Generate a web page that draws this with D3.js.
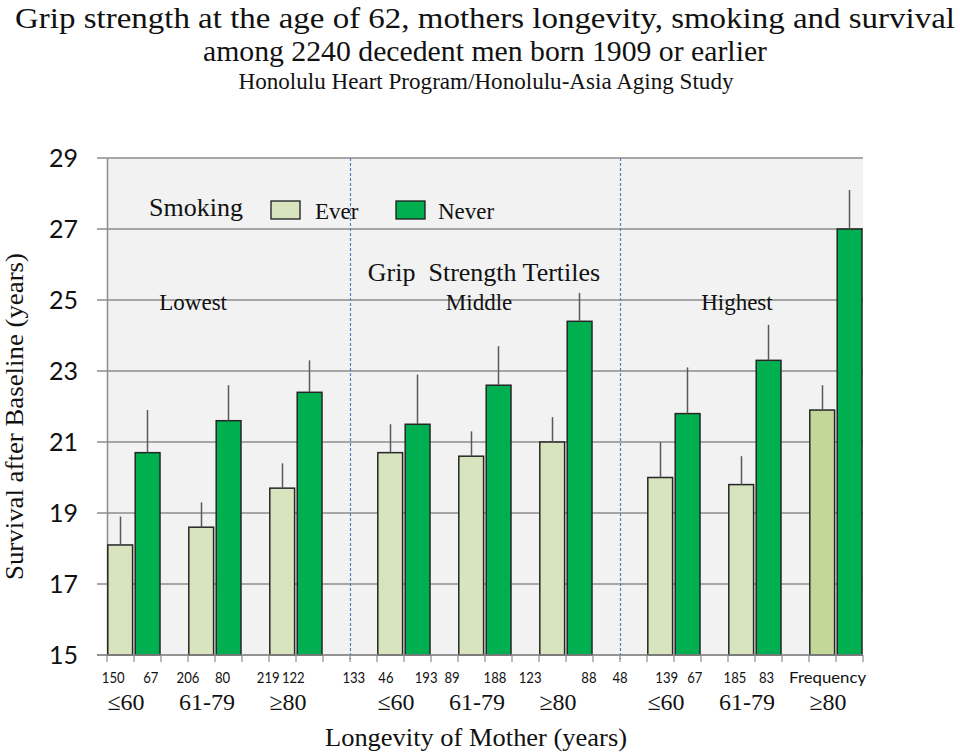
<!DOCTYPE html>
<html>
<head>
<meta charset="utf-8">
<script src="https://cdn.jsdelivr.net/npm/d3@7"></script>
<style>
  html, body { margin: 0; padding: 0; background: #fff; }
  svg { display: block; }
  .serif { font-family: "Liberation Serif", "Times New Roman", serif; fill: #111; }
  .sans { font-family: Lato, "Open Sans", sans-serif; fill: #111; }
</style>
</head>
<body>
<svg id="chart" width="960" height="753"></svg>
<script>
// ---------------- data ----------------
const gripTertiles = ["Lowest", "Middle", "Highest"];
const motherLongevity = ["≤60", "61-79", "≥80"];
// order: Lowest(≤60, 61-79, ≥80), Middle(...), Highest(...)
const everMeans  = [18.1, 18.6, 19.7, 20.7, 20.6, 21.0, 20.0, 19.8, 21.9];
const everUpper  = [18.9, 19.3, 20.4, 21.5, 21.3, 21.7, 21.0, 20.6, 22.6];
const neverMeans = [20.7, 21.6, 22.4, 21.5, 22.6, 24.4, 21.8, 23.3, 27.0];
const neverUpper = [21.9, 22.6, 23.3, 22.9, 23.7, 25.2, 23.1, 24.3, 28.1];
const yTicks = [15, 17, 19, 21, 23, 25, 27, 29];
const freqLabels = ["150","67","206","80","219","122","133","46","193","89","188","123","88","48","139","67","185","83","Frequency"];
// category-slot position (in slot units) where each frequency label sits in the original
const freqLabelSlot = [0.23,1.62,3.0,4.28,5.97,6.9,9.14,10.33,11.82,12.78,14.37,15.67,17.85,19.0,20.73,21.77,23.26,24.43,26.69];
const seriesNames = ["Ever", "Never"];

// ---------------- layout ----------------
const svg = d3.select("#chart");
const pLeft = 107, pRight = 863, pTop = 158, pBottom = 655;
const nSlots = 28;
const slots = d3.range(nSlots);
const x = d3.scaleBand().domain(slots).range([pLeft, pRight]).padding(0);
const xs = d3.scaleLinear().domain([0, nSlots]).range([pLeft, pRight]);
const y = d3.scaleLinear().domain([15, 29]).range([pBottom, pTop]);

const colEver = "#d7e4bd", colEverLast = "#c4d79b", colNever = "#00b050";

// records
const records = [];
gripTertiles.forEach((g, gi) => {
  motherLongevity.forEach((l, li) => {
    const i = gi * 3 + li;
    const s = gi * 10 + li * 3;
    records.push({ g, l, series: "Ever", slot: s, v: everMeans[i], up: everUpper[i], last: i === 8 });
    records.push({ g, l, series: "Never", slot: s + 1, v: neverMeans[i], up: neverUpper[i] });
  });
});

// ---------------- titles ----------------
svg.append("text").attr("class", "serif").attr("x", 485).attr("y", 28)
  .attr("text-anchor", "middle").attr("font-size", 30)
  .attr("textLength", 940).attr("lengthAdjust", "spacingAndGlyphs")
  .text("Grip strength at the age of 62, mothers longevity, smoking and survival");
svg.append("text").attr("class", "serif").attr("x", 485).attr("y", 61)
  .attr("text-anchor", "middle").attr("font-size", 29)
  .attr("textLength", 564).attr("lengthAdjust", "spacingAndGlyphs")
  .text("among 2240 decedent men born 1909 or earlier");
svg.append("text").attr("class", "serif").attr("x", 486).attr("y", 89)
  .attr("text-anchor", "middle").attr("font-size", 23)
  .attr("textLength", 495).attr("lengthAdjust", "spacingAndGlyphs")
  .text("Honolulu Heart Program/Honolulu-Asia Aging Study");

// ---------------- plot background ----------------
svg.append("rect").attr("x", pLeft).attr("y", pTop).attr("width", pRight - pLeft).attr("height", pBottom - pTop)
  .attr("fill", "#f2f2f2");

// gridlines
svg.append("g").selectAll("line").data(yTicks).join("line")
  .attr("x1", pLeft - 10).attr("x2", pRight).attr("y1", d => y(d)).attr("y2", d => y(d))
  .attr("stroke", "#8c8c8c").attr("stroke-width", 1.5);

// y axis
const ya = svg.append("g").attr("transform", `translate(${pLeft},0)`)
  .call(d3.axisLeft(y).tickValues(yTicks).tickSize(0).tickPadding(29).tickFormat(d3.format("d")));
ya.select(".domain").attr("stroke", "#8c8c8c").attr("stroke-width", 1.5);
ya.selectAll("text").attr("font-family", "Lato, 'Open Sans', sans-serif").attr("font-size", 25).attr("fill", "#111");

// x axis ticks at slot boundaries
svg.append("g").selectAll("line").data(d3.range(nSlots + 1)).join("line")
  .attr("x1", d => xs(d)).attr("x2", d => xs(d))
  .attr("y1", pBottom).attr("y2", pBottom + 7)
  .attr("stroke", "#8c8c8c").attr("stroke-width", 1.2);

// separators between grip tertiles
[9, 19].forEach(s => {
  svg.append("line").attr("x1", x(s) + 0.5).attr("x2", x(s) + 0.5).attr("y1", pTop).attr("y2", pBottom + 4)
    .attr("stroke", "#4f81bd").attr("stroke-width", 1.2).attr("stroke-dasharray", "3,2");
});

// ---------------- bars ----------------
svg.append("g").selectAll("rect").data(records).join("rect")
  .attr("x", d => x(d.slot) + (d.series === "Ever" ? 0.8 : 1.2))
  .attr("width", x.bandwidth() - 2.2)
  .attr("y", d => y(d.v))
  .attr("height", d => y(15) - y(d.v))
  .attr("fill", d => d.series === "Never" ? colNever : (d.last ? colEverLast : colEver))
  .attr("stroke", "#262626").attr("stroke-width", 1.5);

// error bars
svg.append("g").selectAll("line").data(records).join("line")
  .attr("x1", d => x(d.slot) + x.bandwidth() / 2).attr("x2", d => x(d.slot) + x.bandwidth() / 2)
  .attr("y1", d => y(d.v)).attr("y2", d => y(d.up))
  .attr("stroke", "#595959").attr("stroke-width", 1.5);

// bottom axis line on top
svg.append("line").attr("x1", pLeft - 10).attr("x2", pRight).attr("y1", pBottom).attr("y2", pBottom)
  .attr("stroke", "#8c8c8c").attr("stroke-width", 1.5);

// ---------------- legend ----------------
svg.append("text").attr("class", "serif").attr("x", 149).attr("y", 216).attr("font-size", 26).text("Smoking");
const legendItems = [
  { name: seriesNames[0], fill: colEver, bx: 271, tx: 315 },
  { name: seriesNames[1], fill: colNever, bx: 396, tx: 438 }
];
legendItems.forEach(it => {
  svg.append("rect").attr("x", it.bx).attr("y", 201).attr("width", 29).attr("height", 18)
    .attr("fill", it.fill).attr("stroke", "#1a1a1a").attr("stroke-width", 1.3);
  svg.append("text").attr("class", "serif").attr("x", it.tx).attr("y", 219).attr("font-size", 23).text(it.name);
});

svg.append("text").attr("class", "serif").attr("x", 484).attr("y", 281).attr("text-anchor", "middle")
  .attr("font-size", 26).style("white-space", "pre").text("Grip  Strength Tertiles");

// tertile labels
const tertileLabelSlot = [3.19, 13.78, 23.33];
gripTertiles.forEach((g, i) => {
  svg.append("text").attr("class", "serif").attr("x", xs(tertileLabelSlot[i])).attr("y", 310)
    .attr("text-anchor", "middle").attr("font-size", 23).text(g);
});

// ---------------- x labels ----------------
svg.append("g").selectAll("text").data(freqLabels).join("text")
  .attr("class", "sans")
  .attr("x", (d, i) => xs(freqLabelSlot[i]))
  .attr("y", 683).attr("text-anchor", "middle").attr("font-size", 16)
  .attr("textLength", d => /^\d+$/.test(d) ? d.length * 7.6 : 77)
  .attr("lengthAdjust", "spacingAndGlyphs")
  .text(d => d);

gripTertiles.forEach((g, gi) => {
  motherLongevity.forEach((l, li) => {
    const s = gi * 10 + li * 3;
    svg.append("text").attr("class", "serif")
      .attr("x", x(s + 1) - 8).attr("y", 710).attr("text-anchor", "middle").attr("font-size", 24)
      .text(l);
  });
});

svg.append("text").attr("class", "serif").attr("x", 476).attr("y", 746).attr("text-anchor", "middle")
  .attr("font-size", 26).attr("textLength", 302).attr("lengthAdjust", "spacingAndGlyphs")
  .text("Longevity of Mother (years)");

svg.append("text").attr("class", "serif")
  .attr("transform", `translate(23,${(253 + 580) / 2}) rotate(-90)`)
  .attr("text-anchor", "middle").attr("font-size", 25)
  .attr("textLength", 327).attr("lengthAdjust", "spacingAndGlyphs")
  .text("Survival after Baseline (years)");
</script>
</body>
</html>
